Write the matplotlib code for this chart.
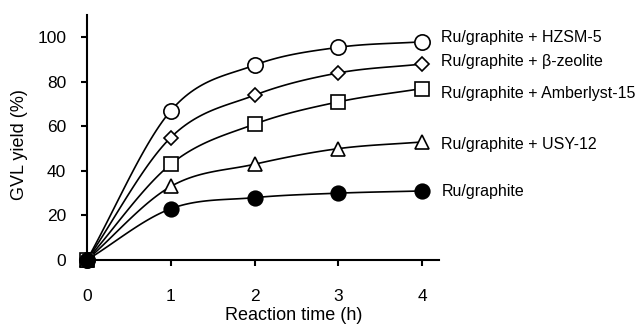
import numpy as np
import matplotlib
matplotlib.use('Agg')
import matplotlib.pyplot as plt

plt.rcParams['font.family'] = ['Liberation Sans', 'DejaVu Sans']

# reaction time (h)
time = [0, 1, 2, 3, 4]
# GVL yield (%) for each catalyst system
hzsm5 = [0, 67, 87.5, 95.5, 98]
beta = [0, 55, 74, 84, 88]
amberlyst = [0, 43, 61, 71, 77]
usy12 = [0, 33, 43, 50, 53]
ru_only = [0, 23, 28, 30, 31]

labels = ['Ru/graphite + HZSM-5', 'Ru/graphite + \u03b2-zeolite',
          'Ru/graphite + Amberlyst-15', 'Ru/graphite + USY-12', 'Ru/graphite']


def smooth(x, y, n=30):
  # catmull-rom style curve through the points (like excel smoothed lines)
  x = np.asarray(x, float); y = np.asarray(y, float)
  px = np.concatenate([[2*x[0]-x[1]], x, [2*x[-1]-x[-2]]])
  py = np.concatenate([[2*y[0]-y[1]], y, [2*y[-1]-y[-2]]])
  xs, ys = [], []
  t = np.linspace(0, 1, n)
  for i in range(1, len(px)-2):
    for arr, out in ((px, xs), (py, ys)):
      p0, p1, p2, p3 = arr[i-1], arr[i], arr[i+1], arr[i+2]
      out.extend(0.5*((2*p1) + (-p0+p2)*t + (2*p0-5*p1+4*p2-p3)*t**2
                      + (-p0+3*p1-3*p2+p3)*t**3))
  return xs, ys


fig = plt.figure(figsize=(6.35, 3.35), dpi=100)
ax = fig.add_axes([0.137, 0.224, 0.554, 0.731])

series = [hzsm5, beta, amberlyst, usy12, ru_only]
styles = [('o', 'white', 11), ('D', 'white', 7), ('s', 'white', 9.5),
          ('^', 'white', 10), ('o', 'black', 10.5)]
offsets = [3, 1.5, -3.5, -1.5, -0.5]

for y, (m, fc, ms), lab, dy in zip(series, styles, labels, offsets):
  sx, sy = smooth(time, y)
  ax.plot(sx, sy, color='black', lw=1.2, zorder=2, clip_on=False)
  ax.plot(time, y, ls='none', marker=m, mfc=fc, mec='black', mew=1.2,
          ms=ms, zorder=3, clip_on=False)
  ax.annotate(lab, xy=(time[-1], y[-1]), xytext=(14, dy), textcoords='offset points',
              va='center', ha='left', fontsize=11.5, annotation_clip=False)

ax.set_xlim(0, 4.2)
ax.set_ylim(0, 110)
ax.set_xticks([0, 1, 2, 3, 4])
ax.set_yticks([0, 20, 40, 60, 80, 100])
ax.spines['top'].set_visible(False)
ax.spines['right'].set_visible(False)
ax.spines['left'].set_linewidth(1.5)
ax.spines['bottom'].set_linewidth(1.5)
ax.tick_params(axis='x', direction='out', length=4, width=1.5, pad=17, labelsize=12.5)
ax.tick_params(axis='y', direction='out', length=4, width=1.5, pad=11, labelsize=12.5)
ax.set_xlabel('Reaction time (h)', fontsize=13)
ax.set_ylabel('GVL yield (%)', fontsize=13)
ax.xaxis.set_label_coords(0.588, -0.192)
ax.yaxis.set_label_coords(-0.168, 0.473)

fig.savefig('out.png', dpi=100)
